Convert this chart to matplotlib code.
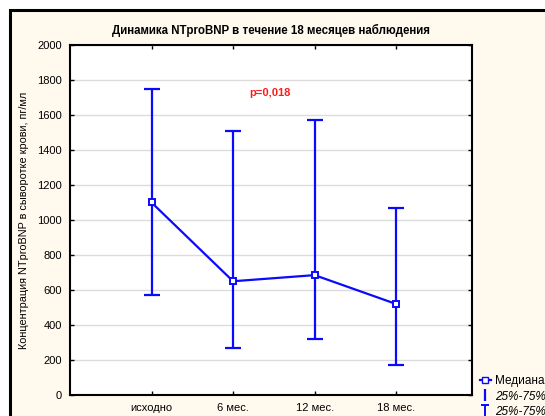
import matplotlib
matplotlib.use("Agg")
import matplotlib.pyplot as plt
from matplotlib.lines import Line2D
from matplotlib.patches import Rectangle
from matplotlib.path import Path
import numpy as np

plt.rcParams['font.family'] = ['Liberation Sans', 'DejaVu Sans']

categories = ['исходно', '6 мес.', '12 мес.', '18 мес.']
median = [1100, 650, 685, 520]
q25 = [570, 270, 320, 170]
q75 = [1750, 1510, 1570, 1070]
y_ticks = [0, 200, 400, 600, 800, 1000, 1200, 1400, 1600, 1800, 2000]

W, H = 545, 416
fig = plt.figure(figsize=(W / 100, H / 100), dpi=100)
fig.patch.set_facecolor('white')
fig.patches.append(Rectangle((10 / W, -0.05), 1.1, 1 - 10 / H + 0.05,
                             transform=fig.transFigure, facecolor='#fff9ee',
                             edgecolor='black', linewidth=2.2, zorder=-10))

ax = fig.add_axes([70 / W, 1 - 395 / H, 402 / W, 350 / H])
ax.set_facecolor('white')
x = np.arange(1, len(categories) + 1)
blue = '#0a0aff'

med = np.array(median)
lo = med - np.array(q25)
hi = np.array(q75) - med
ax.errorbar(x, med, yerr=[lo, hi], fmt='none', ecolor=blue, elinewidth=1.6,
            capsize=6, capthick=1.6, zorder=3)
ax.plot(x, med, color=blue, lw=1.6, marker='s', markersize=4.2,
        markerfacecolor='white', markeredgecolor=blue, markeredgewidth=1.4, zorder=4)

ax.set_xlim(0, 4.93)
ax.set_ylim(0, 2000)
ax.set_xticks(x)
ax.set_xticklabels(categories)
ax.set_yticks(y_ticks)
ax.yaxis.grid(True, color='#dcdcdc', lw=1)
ax.set_axisbelow(True)
ax.tick_params(direction='in', top=True, right=True, length=3, width=1,
               labelsize=8, colors='black', pad=6)
ax.tick_params(axis='x', pad=6)
for s in ax.spines.values():
    s.set_linewidth(1.5)

ax.set_ylabel('Концентрация NTproBNP в сыворотке крови, пг/мл', fontsize=7.8, labelpad=6)
ax.set_title('Динамика NTproBNP в течение 18 месяцев наблюдения', fontsize=8.3,
             fontweight='bold', pad=8)
ax.text(2.45, 1725, 'p=0,018', color='#ff1a1a', fontsize=8, fontweight='bold',
        ha='center', va='center')

ibeam = Path([(0, -1), (0, 1), (-0.6, 1), (0.6, 1), (-0.6, -1), (0.6, -1)],
             [Path.MOVETO, Path.LINETO, Path.MOVETO, Path.LINETO, Path.MOVETO, Path.LINETO])
handles = [
    Line2D([], [], color=blue, lw=1.6, marker='s', markersize=4,
           markerfacecolor='white', markeredgecolor=blue),
    Line2D([], [], color=blue, lw=0, marker='|', markersize=9, markeredgewidth=1.6),
    Line2D([], [], color=blue, lw=0, marker=ibeam, markersize=9, markeredgewidth=1.4),
]
labels = ['Медиана', '25%-75%', '25%-75%']
leg = fig.legend(handles, labels, loc='upper left',
                 bbox_to_anchor=(480 / W, 1 - 375 / H), frameon=False,
                 fontsize=8.5, handlelength=0.9, handletextpad=0.4,
                 labelspacing=0.3, borderpad=0, borderaxespad=0)
for t in leg.get_texts()[1:]:
    t.set_fontstyle('italic')

fig.savefig('out.png', dpi=100, facecolor=fig.get_facecolor())
